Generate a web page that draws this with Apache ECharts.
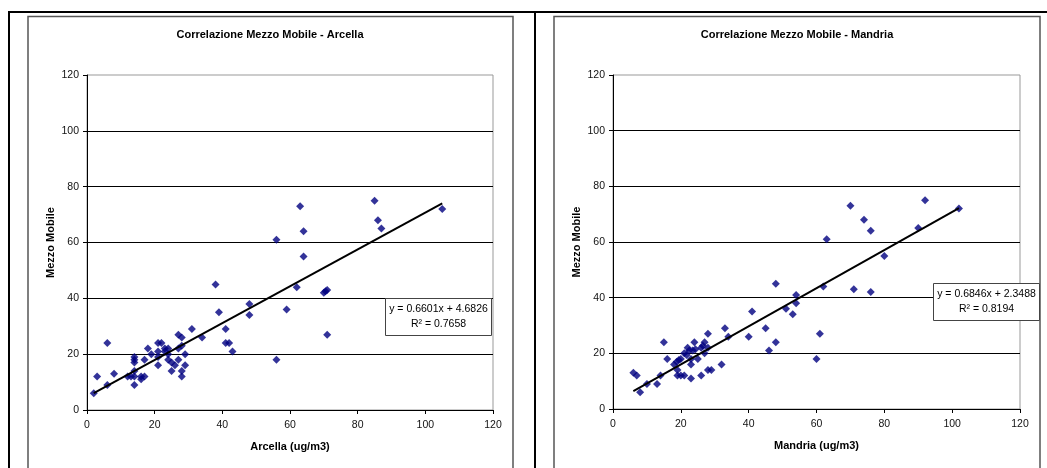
<!DOCTYPE html>
<html>
<head>
<meta charset="utf-8">
<script src="https://cdn.jsdelivr.net/npm/echarts@6/dist/echarts.min.js"></script>
<style>
html,body{margin:0;padding:0;background:#fff;}
#c{width:1047px;height:468px;}
</style>
</head>
<body>
<div id="c"></div>
<script>
// ---- data ----
const chartTitles = ['Correlazione Mezzo Mobile - Arcella', 'Correlazione Mezzo Mobile - Mandria'];
const xAxisNames = ['Arcella (ug/m3)', 'Mandria (ug/m3)'];
const yAxisName = 'Mezzo Mobile';

const arcellaX = [2,3,6,6,8,12,13,14,14,14,14,14,14,16,16,17,17,18,19,21,22,21,21,21,23,24,23,24,24,25,26,25,27,28,27,28,27,28,28,29,29,31,34,38,39,41,41,42,43,48,48,56,56,59,62,63,64,64,70,70.5,71,71,85,86,87,105];
const arcellaY = [6,12,24,9,13,12,12,19,18,17,14,12,9,11,12,12,18,22,20,24,24,21,19,16,22,22,21,20,18,17,16,14,27,26,22,23,18,14,12,20,16,29,26,45,35,29,24,24,21,38,34,61,18,36,44,73,64,55,42,42.5,43,27,75,68,65,72];

const mandriaX = [6,7,8,10,13,14,15,16,18,18.8,19.4,19,19,20,21,20,21,21.7,22,22.5,23,23,23,24,23.5,24.3,25,26,26.5,27,27,26,28,28,28,29,32,33,34,40,41,45,46,48,48,51,53,54,54,60,61,62,63,70,71,74,76,76,80,90,92,102];
const mandriaY = [13,12,6,9,9,12,24,18,16,17,17.6,14,12,12,12,18,20,19.4,22,21,18,16,11,24,21,21.5,18,22,22.7,24,20,12,27,22,14,14,16,29,26,26,35,29,21,45,24,36,34,41,38,18,27,44,61,73,43,68,64,42,55,65,75,72];

// trendline coefficients as printed on the chart
const trendSlope = [0.6601, 0.6846];
const trendIntercept = [4.6826, 2.3488];
const trendLabels = ['y = 0.6601x + 4.6826', 'y = 0.6846x + 2.3488'];
const r2Labels = ['R² = 0.7658', 'R² = 0.8194'];

const axisMin = 0, axisMax = 120, axisInterval = 20;

// ---- build ----
const FONT = "'Liberation Sans', Arial, sans-serif";
const pts = (xs, ys) => xs.map((x, i) => [x, ys[i]]);
const trend = (xs, k) => {
  const a = Math.min(...xs), b = Math.max(...xs);
  return [[a, trendSlope[k] * a + trendIntercept[k]], [b, trendSlope[k] * b + trendIntercept[k]]];
};

const grids = [
  {left: 87, top: 75, width: 406, height: 335},
  {left: 613, top: 75, width: 407, height: 334}
];

function xAx(i) {
  return {
    type: 'value', gridIndex: i, min: axisMin, max: axisMax, interval: axisInterval,
    name: xAxisNames[i], nameLocation: 'middle', nameGap: 31,
    nameTextStyle: {fontFamily: FONT, fontSize: 11, fontWeight: 'bold', color: '#000'},
    axisLine: {show: true, lineStyle: {color: '#000', width: 1}},
    axisTick: {show: true, length: 4, inside: false, lineStyle: {color: '#000'}},
    axisLabel: {fontFamily: FONT, fontSize: 10.5, color: '#111', margin: 10},
    splitLine: {show: false}
  };
}
function yAx(i) {
  return {
    type: 'value', gridIndex: i, min: axisMin, max: axisMax, interval: axisInterval,
    name: yAxisName, nameLocation: 'middle', nameGap: 31,
    nameTextStyle: {fontFamily: FONT, fontSize: 11, fontWeight: 'bold', color: '#000'},
    axisLine: {show: true, lineStyle: {color: '#000', width: 1}},
    axisTick: {show: true, length: 4, inside: false, lineStyle: {color: '#000'}},
    axisLabel: {fontFamily: FONT, fontSize: 10.5, color: '#111', margin: 8},
    splitLine: {show: true, showMinLine: false, showMaxLine: false, lineStyle: {color: '#000', width: 1}}
  };
}

const graphics = [
  // outer black frame lines
  {type: 'line', shape: {x1: 8, y1: 12, x2: 1047, y2: 12}, style: {stroke: '#000', lineWidth: 2}},
  {type: 'line', shape: {x1: 9, y1: 11, x2: 9, y2: 468}, style: {stroke: '#000', lineWidth: 2}},
  {type: 'line', shape: {x1: 535, y1: 11, x2: 535, y2: 468}, style: {stroke: '#000', lineWidth: 2}},
  // inner chart area boxes
  {type: 'rect', shape: {x: 28, y: 16.5, width: 485, height: 470}, style: {fill: 'none', stroke: '#555', lineWidth: 1.5}},
  {type: 'rect', shape: {x: 554, y: 16.5, width: 486, height: 470}, style: {fill: 'none', stroke: '#555', lineWidth: 1.5}},
  // titles
  {type: 'text', x: 270, y: 35, style: {text: chartTitles[0], fontFamily: FONT, fontSize: 11, fontWeight: 'bold', fill: '#000', align: 'center', verticalAlign: 'middle'}},
  {type: 'text', x: 797, y: 35, style: {text: chartTitles[1], fontFamily: FONT, fontSize: 11, fontWeight: 'bold', fill: '#000', align: 'center', verticalAlign: 'middle'}}
];
const boxes = [{x: 385.5, y: 298.5, w: 106, h: 37}, {x: 933.5, y: 283.5, w: 106, h: 37}];
boxes.forEach((b, i) => {
  graphics.push({type: 'rect', z: 10, shape: {x: b.x, y: b.y, width: b.w, height: b.h}, style: {fill: '#fff', stroke: '#444', lineWidth: 1}});
  graphics.push({type: 'text', z: 11, x: b.x + b.w / 2, y: b.y + 11, style: {text: trendLabels[i], fontFamily: FONT, fontSize: 10.5, fill: '#000', align: 'center', verticalAlign: 'middle'}});
  graphics.push({type: 'text', z: 11, x: b.x + b.w / 2, y: b.y + 26, style: {text: r2Labels[i], fontFamily: FONT, fontSize: 10.5, fill: '#000', align: 'center', verticalAlign: 'middle'}});
});

const scatterStyle = {type: 'scatter', symbol: 'diamond', symbolSize: [8, 8], itemStyle: {color: '#000080'}, silent: true, z: 3};
const lineStyle = {type: 'line', showSymbol: false, symbol: 'none', lineStyle: {color: '#000', width: 2}, silent: true, z: 4};

const option = {
  backgroundColor: '#fff',
  animation: false,
  grid: grids.map(g => Object.assign({show: true, borderColor: '#999', borderWidth: 1, backgroundColor: 'transparent'}, g)),
  xAxis: [xAx(0), xAx(1)],
  yAxis: [yAx(0), yAx(1)],
  series: [
    Object.assign({}, scatterStyle, {name: 'Arcella', xAxisIndex: 0, yAxisIndex: 0, data: pts(arcellaX, arcellaY)}),
    Object.assign({}, lineStyle, {name: 'Trend Arcella', xAxisIndex: 0, yAxisIndex: 0, data: trend(arcellaX, 0)}),
    Object.assign({}, scatterStyle, {name: 'Mandria', xAxisIndex: 1, yAxisIndex: 1, data: pts(mandriaX, mandriaY)}),
    Object.assign({}, lineStyle, {name: 'Trend Mandria', xAxisIndex: 1, yAxisIndex: 1, data: trend(mandriaX, 1)})
  ],
  graphic: graphics
};

const chart = echarts.init(document.getElementById('c'), null, {renderer: 'canvas'});
chart.setOption(option);
</script>
</body>
</html>
